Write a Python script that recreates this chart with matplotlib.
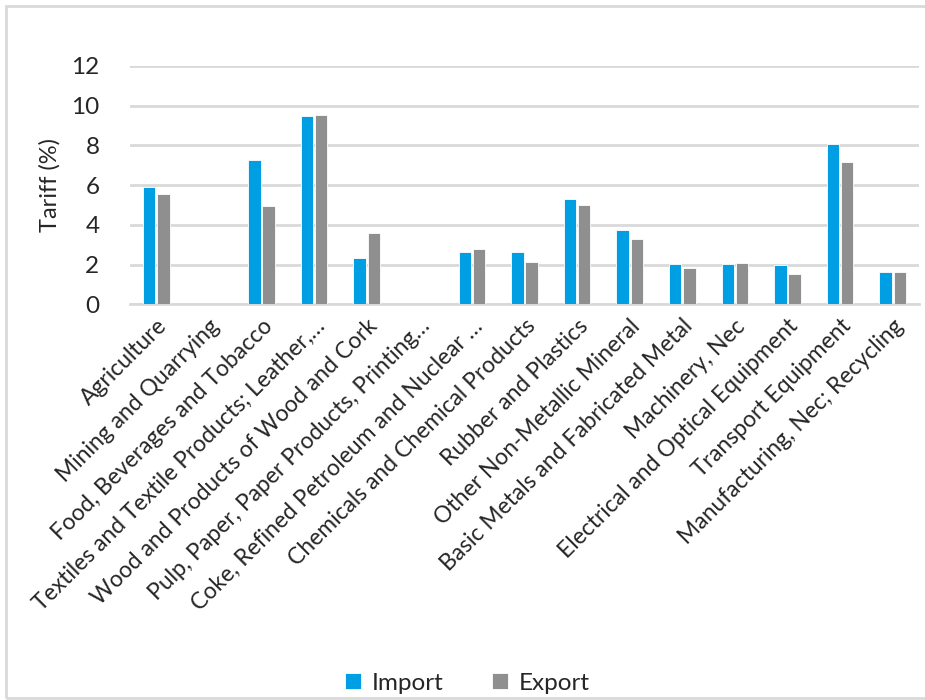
import matplotlib
matplotlib.use("Agg")
import matplotlib.pyplot as plt
import numpy as np
from matplotlib.patches import Rectangle

categories = [
    "Agriculture",
    "Mining and Quarrying",
    "Food, Beverages and Tobacco",
    "Textiles and Textile Products; Leather,…",
    "Wood and Products of Wood and Cork",
    "Pulp, Paper, Paper Products, Printing…",
    "Coke, Refined Petroleum and Nuclear …",
    "Chemicals and Chemical Products",
    "Rubber and Plastics",
    "Other Non-Metallic Mineral",
    "Basic Metals and Fabricated Metal",
    "Machinery, Nec",
    "Electrical and Optical Equipment",
    "Transport Equipment",
    "Manufacturing, Nec; Recycling",
]
import_vals = [5.9, 0, 7.25, 9.47, 2.33, 0, 2.65, 2.65, 5.3, 3.75, 2.02, 2.02, 1.97, 8.05, 1.65]
export_vals = [5.57, 0, 4.95, 9.55, 3.6, 0, 2.77, 2.15, 5.0, 3.27, 1.83, 2.08, 1.53, 7.18, 1.65]
yticks = [0, 2, 4, 6, 8, 10, 12]

plt.rcParams['font.family'] = ['Lato', 'DejaVu Sans']

fig = plt.figure(figsize=(9.25, 7), dpi=100)
ax = fig.add_axes([130/925, 1-304.3/700, (919-130)/925, (304.3-66)/700])

x = np.arange(len(categories))
w = 0.235
off = 0.135
ax.bar(x - off, import_vals, w, color="#009FE3", edgecolor="white", linewidth=0.6, label="Import", zorder=3)
ax.bar(x + off, export_vals, w, color="#8F8F8F", edgecolor="white", linewidth=0.6, label="Export", zorder=3)

ax.set_xlim(-0.5, len(categories) - 0.5)
ax.set_ylim(0, 12)
ax.set_yticks(yticks)
ax.set_yticklabels([str(t) for t in yticks], fontsize=17.5, color="#262626")
ax.yaxis.grid(True, color="#D9D9D9", linewidth=2, zorder=0)
ax.set_axisbelow(True)
for s in ["top", "right", "left"]:
    ax.spines[s].set_visible(False)
ax.spines["bottom"].set_color("#D9D9D9")
ax.spines["bottom"].set_linewidth(2)
ax.tick_params(axis="y", length=0, pad=22)
ax.tick_params(axis="x", length=0, pad=8)
ax.set_xticks(x)
ax.set_xticklabels(categories, rotation=45, ha="right", rotation_mode="anchor", fontsize=16.5, color="#262626")
ax.set_ylabel("Tariff (%)", fontsize=17, color="#262626", labelpad=8)

leg = fig.legend(loc="lower center", bbox_to_anchor=(0.505, -0.022), ncol=2, frameon=False,
                 fontsize=17.5, handlelength=0.65, handleheight=0.65, columnspacing=2.0,
                 handletextpad=0.45)
for t in leg.get_texts():
    t.set_color("#262626")

fig.patches.append(Rectangle((6/925, 2/700), 1.0, 692/700, transform=fig.transFigure,
                             fill=False, edgecolor="#D9D9D9", linewidth=2))

fig.savefig("out.png", dpi=100, facecolor="white")
